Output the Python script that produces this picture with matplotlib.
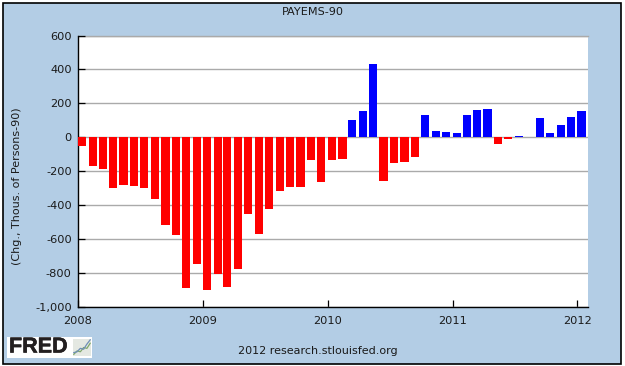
import datetime as dt
import matplotlib
matplotlib.use("Agg")
import matplotlib.pyplot as plt
import matplotlib.dates as mdates
import matplotlib.patheffects as pe
from matplotlib.patches import Rectangle

W, H = 625, 366

months = [dt.date(2008 + i // 12, i % 12 + 1, 1) for i in range(49)]
values = [-50, -172, -186, -298, -280, -286, -298, -363, -521, -580, -892, -751,
          -904, -810, -886, -780, -451, -574, -427, -321, -292, -292, -133, -265,
          -133, -127, 102, 155, 431, -257, -151, -145, -115, 131, 37, 31,
          25, 131, 161, 167, -39, -10, 8, 2, 114, 25, 73, 120,
          155]
y_ticks = [600, 400, 200, 0, -200, -400, -600, -800, -1000]
x_years = [2008, 2009, 2010, 2011, 2012]
icon_green = [0.1, 0.3, 0.25, 0.5, 0.45, 0.75]
icon_blue = [0.2, 0.25, 0.45, 0.4, 0.7, 0.95]

BG = "#b3cde5"
TXT = "#1a1a1a"

plt.rcParams["font.family"] = "DejaVu Sans"
fig = plt.figure(figsize=(W / 100, H / 100), dpi=100, facecolor="white")

# panel with black border, behind the axes
fig.add_artist(Rectangle((2.5 / W, 1 - 363.5 / H), 618 / W, 361 / H, transform=fig.transFigure,
                         facecolor=BG, edgecolor="black", linewidth=1.2, zorder=-5))

ax = fig.add_axes([78 / W, 1 - 306.5 / H, 510 / W, 271 / H])
ax.set_facecolor("white")
colors = ["#ff0000" if v < 0 else "#0000ff" for v in values]
ax.bar(months, values, width=24, align="edge", color=colors, zorder=3)

ax.set_xlim(dt.date(2008, 1, 1), dt.date(2012, 2, 1))
ax.set_ylim(-1000, 600)
ax.set_yticks(y_ticks)
ax.set_yticklabels([f"{v:,}" for v in y_ticks], fontsize=8.2, color=TXT)
ax.set_xticks([dt.date(y, 1, 1) for y in x_years])
ax.xaxis.set_major_formatter(mdates.DateFormatter("%Y"))
ax.grid(axis="y", color="#aaaaaa", linewidth=1.0, zorder=1)
ax.tick_params(axis="both", direction="in", length=5, width=0.9, color="black", labelsize=8.2, labelcolor=TXT)
ax.tick_params(axis="x", pad=7)
ax.tick_params(axis="y", pad=4.5)
for s in ["top", "right"]:
    ax.spines[s].set_visible(False)
ax.axhline(600, color="#aaaaaa", linewidth=1.0, clip_on=False, zorder=1)
ax.spines["left"].set_linewidth(1.0)
ax.spines["bottom"].set_linewidth(1.0)

fig.text(313 / W, 1 - 12 / H, "PAYEMS-90", ha="center", va="center", fontsize=8.1, color=TXT)
fig.text(17.5 / W, 1 - 186 / H, "(Chg., Thous. of Persons-90)", rotation=90, ha="center", va="center",
         fontsize=8.05, color=TXT)
fig.text(317.5 / W, 1 - 351 / H, "2012 research.stlouisfed.org", ha="center", va="center",
         fontsize=8, color=TXT)

# FRED logo
fig.add_artist(Rectangle((7 / W, 1 - 358 / H), 85 / W, 21 / H, transform=fig.transFigure,
                         facecolor="white", edgecolor="none", zorder=1))
logo = fig.text(9 / W, 1 - 347 / H, "FRED", ha="left", va="center", fontsize=15.5, fontweight="bold",
                family="Liberation Sans", color="#231f20", zorder=2)
logo.set_path_effects([pe.withStroke(linewidth=0.4, foreground="#231f20")])
icon = fig.add_axes([73 / W, 1 - 356 / H, 18 / W, 17 / H], zorder=3)
icon.set_facecolor("#e4e8e2")
icon.plot(icon_green, color="#7fa86a", linewidth=0.9)
icon.plot(icon_blue, color="#6f8fb5", linewidth=0.9)
icon.set_ylim(0, 1)
icon.set_xticks([])
icon.set_yticks([])
for s in icon.spines.values():
    s.set_visible(False)

fig.savefig("out.png", dpi=100, facecolor="white")
